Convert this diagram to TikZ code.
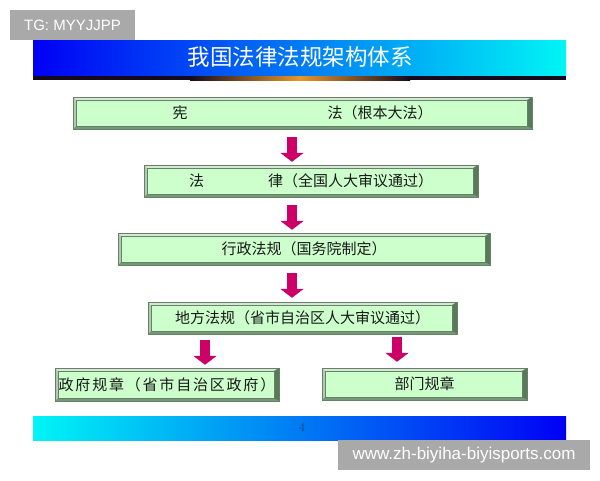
\documentclass[tikz,border=0pt]{standalone}
\usepackage{fontspec}
\usetikzlibrary{arrows.meta}
\newfontfamily\cjk{Noto Sans CJK SC}
\newfontfamily\wmfont{Liberation Sans}

\definecolor{boxface}{RGB}{204,255,204}
\definecolor{boxline}{RGB}{100,130,100}
\definecolor{bevtop}{RGB}{215,230,215}
\definecolor{bevleft}{RGB}{180,200,180}
\definecolor{bevbottom}{RGB}{120,150,120}
\definecolor{bevright}{RGB}{90,120,90}
\definecolor{arrowred}{RGB}{204,0,102}
\definecolor{wmgray}{RGB}{169,169,169}
\definecolor{barblue}{RGB}{0,0,245}
\definecolor{barcyan}{RGB}{0,245,245}
\definecolor{stripdark}{RGB}{20,10,30}
\definecolor{striporange}{RGB}{235,150,40}
\definecolor{pagegray}{RGB}{55,65,95}

\tikzset{
  lawbox/.style={draw=boxline, fill=boxface, inner sep=0pt, minimum height=32pt,
    text=black!90, font=\cjk\fontsize{15pt}{15pt}\selectfont,
    path picture={
      \path (path picture bounding box.south west) coordinate (sw)
            (path picture bounding box.north east) coordinate (ne);
      \fill[bevtop] (sw|-ne) -- (ne) -- ([shift={(-5pt,-3pt)}]ne) -- ([shift={(3pt,-3pt)}]sw|-ne) -- cycle;
      \fill[bevleft] (sw) -- (sw|-ne) -- ([shift={(3pt,-3pt)}]sw|-ne) -- ([shift={(3pt,3pt)}]sw) -- cycle;
      \fill[bevbottom] (sw) -- (sw-|ne) -- ([shift={(-5pt,3pt)}]sw-|ne) -- ([shift={(3pt,3pt)}]sw) -- cycle;
      \fill[bevright] (sw-|ne) -- (ne) -- ([shift={(-5pt,-3pt)}]ne) -- ([shift={(-5pt,3pt)}]sw-|ne) -- cycle;
      \draw[boxline, line width=0.4pt] ([shift={(3pt,3pt)}]sw) rectangle ([shift={(-5pt,-3pt)}]ne);
    }},
  bigarrow/.style={arrowred, line width=10pt, -{Triangle[width=23pt,length=9pt]}},
  wmbox/.style={fill=wmgray, text=white, inner sep=0pt, minimum height=30pt}
}

\begin{document}
\begin{tikzpicture}[x=1pt,y=-1pt]

\useasboundingbox[fill=white] (0,0) rectangle (600,480);

% Draw the title banner
\shade[left color=barblue, right color=barcyan] (33,40) rectangle (566,76);
\fill[stripdark] (33,76) rectangle (566,80);
\shade[left color=stripdark, right color=stripdark, middle color=striporange] (190,76) rectangle (410,80);
\node[text=white, font=\cjk\fontsize{22.5pt}{22.5pt}\selectfont] (title) at (300,57) {我国法律法规架构体系};

% Draw the boxes
\node[lawbox, minimum width=459pt] (xianfa) at (302.5,113) {宪\hspace{140pt}法（根本大法）\hspace{4pt}};
\node[lawbox, minimum width=334pt] (falv) at (311,181) {法\hspace{64pt}律（全国人大审议通过）\hspace{9pt}};
\node[lawbox, minimum width=372pt] (xingzheng) at (304,249) {行政法规（国务院制定）\hspace{6pt}};
\node[lawbox, minimum width=309pt] (difang) at (302.5,318) {地方法规（省市自治区人大审议通过）};
\node[lawbox, minimum width=224pt, minimum height=33pt] (zhengfu) at (167,384.5)
  {\addfontfeature{LetterSpace=12}政府规章（省市自治区政府）\hspace{6pt}};
\node[lawbox, minimum width=205pt] (bumen) at (424.5,384) {部门规章};

% Draw the arrows between the boxes
\coordinate (mainaxis) at (292,0);
\coordinate (leftaxis) at (205,0);
\coordinate (rightaxis) at (397,0);
\draw[bigarrow] ([yshift=-8pt]xianfa.south -| mainaxis) -- ([yshift=3pt]falv.north -| mainaxis);
\draw[bigarrow] ([yshift=-8pt]falv.south -| mainaxis) -- ([yshift=3pt]xingzheng.north -| mainaxis);
\draw[bigarrow] ([yshift=-8pt]xingzheng.south -| mainaxis) -- ([yshift=4pt]difang.north -| mainaxis);
\draw[bigarrow] ([yshift=-6pt]difang.south -| leftaxis) -- ([yshift=3pt]zhengfu.north -| leftaxis);
\draw[bigarrow] ([yshift=-3pt]difang.south -| rightaxis) -- ([yshift=6pt]bumen.north -| rightaxis);

% Draw the footer bar
\shade[left color=barcyan, right color=barblue] (33,416) rectangle (566,440);
\node[text=pagegray, font=\fontsize{12pt}{12pt}\selectfont] (pagenum) at (302,427) {4};

% Draw the watermarks
\node[wmbox, minimum width=125pt, font=\wmfont\fontsize{15pt}{15pt}\selectfont] (tgmark) at (72.5,25) {TG: MYYJJPP};
\node[wmbox, minimum width=252pt, font=\wmfont\fontsize{17pt}{17pt}\selectfont] (urlmark) at (464,455) {www.zh-biyiha-biyisports.com};

\end{tikzpicture}
\end{document}
